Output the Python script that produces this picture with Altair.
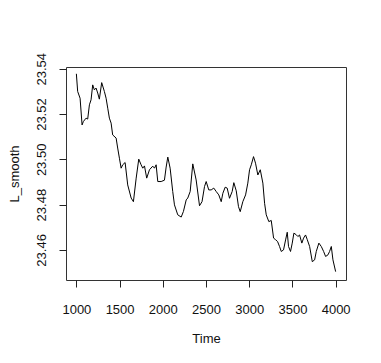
import altair as alt
import pandas as pd

time = [1000, 1015, 1043, 1066, 1081, 1112, 1131, 1151, 1170, 1189, 1208, 1228, 1247, 1266, 1293,
        1324, 1344, 1363, 1382, 1402, 1420, 1460, 1478, 1498, 1518, 1536, 1564, 1594, 1634, 1660,
        1692, 1722, 1749, 1768, 1788, 1814, 1846, 1884, 1904, 1923, 1942, 1981, 2019, 2039, 2058,
        2085, 2115, 2135, 2173, 2213, 2239, 2271, 2289, 2317, 2347, 2386, 2425, 2454, 2483, 2502,
        2532, 2560, 2590, 2618, 2648, 2676, 2695, 2722, 2745, 2772, 2803, 2822, 2850, 2876, 2896,
        2926, 2958, 2984, 3004, 3024, 3050, 3073, 3100, 3128, 3158, 3178, 3197, 3227, 3255, 3282,
        3305, 3328, 3351, 3371, 3397, 3421, 3440, 3455, 3478, 3498, 3517, 3544, 3563, 3583, 3609,
        3629, 3652, 3672, 3699, 3730, 3757, 3776, 3806, 3834, 3861, 3884, 3911, 3930, 3950, 3969,
        4000]
l_smooth = [23.5378, 23.5300, 23.5270, 23.5152, 23.5167, 23.5182, 23.5178, 23.5241, 23.5263, 23.5329,
            23.5307, 23.5315, 23.5293, 23.5266, 23.5339, 23.5300, 23.5270, 23.5226, 23.5182, 23.5160,
            23.5108, 23.5094, 23.5050, 23.5005, 23.4961, 23.4976, 23.4986, 23.4887, 23.4829, 23.4813,
            23.4917, 23.5001, 23.4976, 23.4961, 23.4971, 23.4917, 23.4954, 23.4970, 23.4961, 23.4976,
            23.4902, 23.4902, 23.4908, 23.4966, 23.5010, 23.4961, 23.4858, 23.4799, 23.4755, 23.4745,
            23.4770, 23.4821, 23.4829, 23.4858, 23.4980, 23.4909, 23.4795, 23.4813, 23.4880, 23.4902,
            23.4865, 23.4865, 23.4873, 23.4858, 23.4843, 23.4813, 23.4850, 23.4877, 23.4873, 23.4828,
            23.4858, 23.4897, 23.4861, 23.4791, 23.4769, 23.4813, 23.4843, 23.4895, 23.4954, 23.4976,
            23.5012, 23.4983, 23.4931, 23.4954, 23.4895, 23.4806, 23.4755, 23.4725, 23.4730, 23.4652,
            23.4645, 23.4637, 23.4615, 23.4593, 23.4600, 23.4644, 23.4678, 23.4615, 23.4593, 23.4630,
            23.4674, 23.4667, 23.4659, 23.4666, 23.4630, 23.4652, 23.4666, 23.4645, 23.4615, 23.4548,
            23.4556, 23.4593, 23.4630, 23.4615, 23.4593, 23.4571, 23.4578, 23.4593, 23.4615, 23.4556,
            23.4504]

x_ticks = [1000, 1500, 2000, 2500, 3000, 3500, 4000]
y_ticks = [23.46, 23.48, 23.50, 23.52, 23.54]

df = pd.DataFrame({"Time": time, "L_smooth": l_smooth})

FONT = "Liberation Sans"
FS = 13

chart = alt.Chart(df).mark_line(color="black", strokeWidth=1).encode(
    x=alt.X("Time:Q",
            scale=alt.Scale(domain=[880, 4120], nice=False, zero=False),
            axis=alt.Axis(values=x_ticks, format="d", domain=False, grid=False,
                          tickSize=7, tickColor="#222", labelPadding=16,
                          labelFontSize=FS, labelFont=FONT, labelColor="#111",
                          title="Time", titleFontSize=FS, titleFont=FONT,
                          titleFontWeight="normal", titleColor="#111", titlePadding=16)),
    y=alt.Y("L_smooth:Q",
            scale=alt.Scale(domain=[23.4467, 23.5408], nice=False, zero=False),
            axis=alt.Axis(values=y_ticks, format=".2f", domain=False, grid=False,
                          tickSize=7, tickColor="#222", labelPadding=11,
                          labelAngle=270, labelAlign="center", labelBaseline="bottom",
                          labelFontSize=FS, labelFont=FONT, labelColor="#111",
                          title="L_smooth", titleFontSize=FS, titleFont=FONT,
                          titleFontWeight="normal", titleColor="#111", titlePadding=14)),
).properties(
    width=280,
    height=213,
    autosize="none",
    background="white",
    padding={"left": 58, "top": 59, "right": 27, "bottom": 75},
).configure_view(
    stroke="#333", strokeWidth=1
)

chart.save("out.html", embed_options={"renderer": "svg", "actions": False})
